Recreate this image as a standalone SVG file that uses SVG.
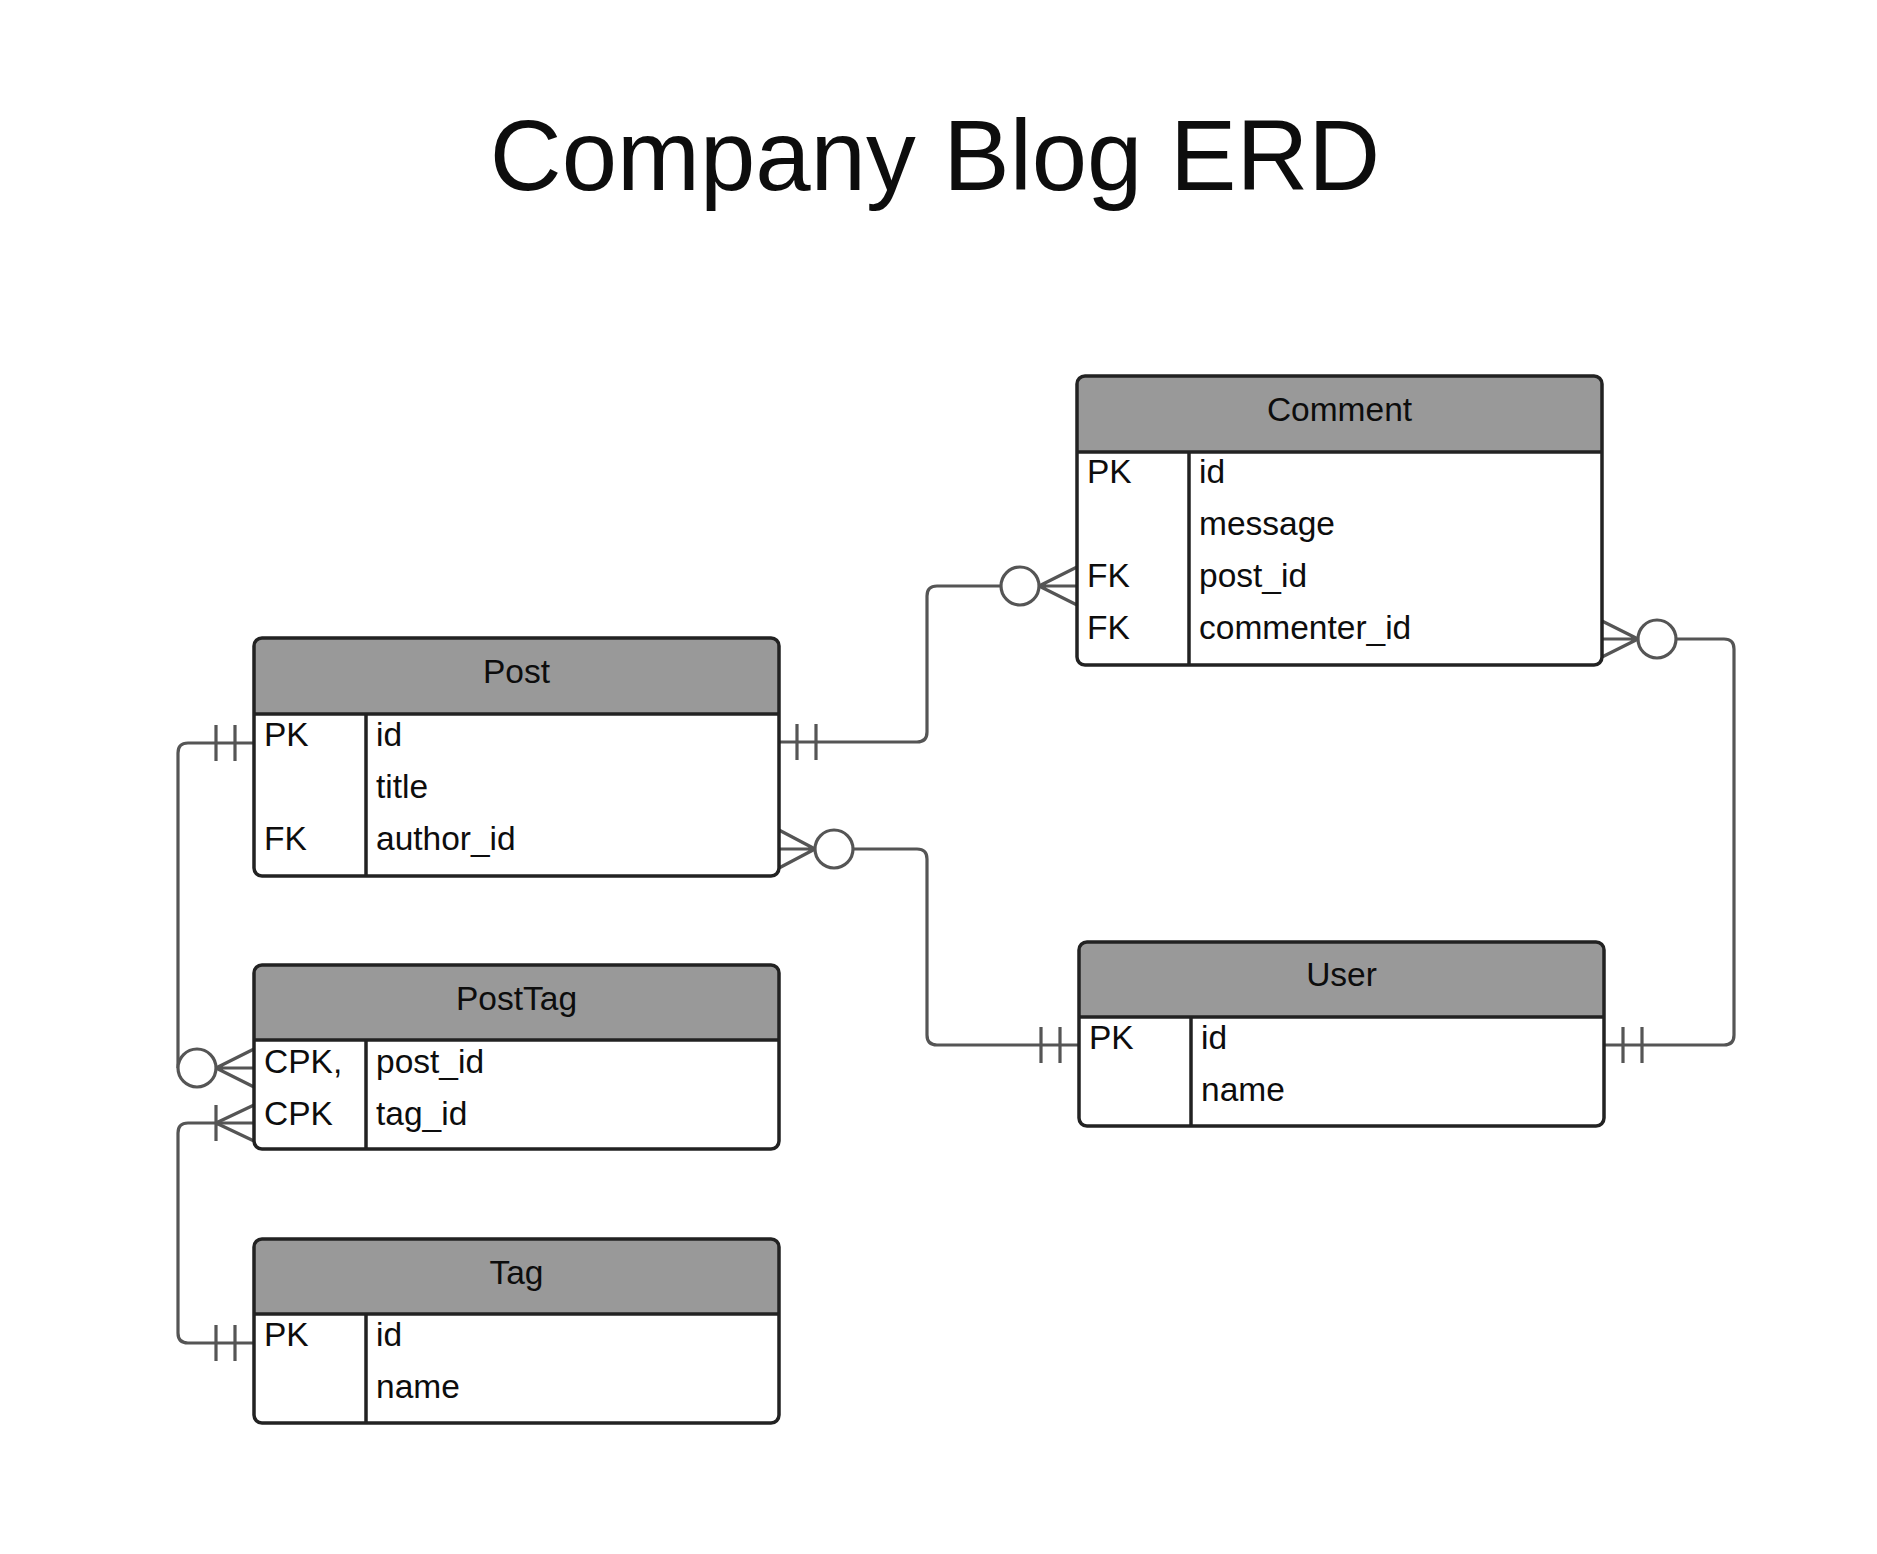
<svg xmlns="http://www.w3.org/2000/svg" width="1877" height="1554" viewBox="0 0 1877 1554">
<style>
  text { font-family: "Liberation Sans", Arial, sans-serif; fill: #0d0d0d; }
  .title { font-size: 99.5px; text-anchor: middle; }
  .hd { font-size: 33.5px; text-anchor: middle; }
  .t { font-size: 33.5px; }
  .hfill { fill: #999999; stroke: none; }
  .box { fill: none; stroke: #222; stroke-width: 3.5; }
  .bg { fill: #fff; stroke: none; }
  .ln { stroke: #222; stroke-width: 3.5; }
  .c { fill: none; stroke: #555; stroke-width: 3.2; stroke-linecap: butt; }
  .o { fill: #fff; stroke: #555; stroke-width: 3.2; }
</style>
<rect width="1877" height="1554" fill="#fff"/>
<text class="title" x="935" y="190">Company Blog ERD</text>

<g id="connectors">
  <!-- Post PK to PostTag post_id (zero or many) -->
  <path class="c" d="M254,743 H188 Q178,743 178,753 V1068"/>
  <path class="c" d="M216,725 V761 M235,725 V761"/>
  <path class="c" d="M216,1068 L254,1049 M216,1068 H254 M216,1068 L254,1087"/>
  <circle class="o" cx="197" cy="1068" r="19"/>
  <!-- Tag PK to PostTag tag_id (one or many) -->
  <path class="c" d="M254,1343 H188 Q178,1343 178,1333 V1133 Q178,1123 188,1123 H254"/>
  <path class="c" d="M216,1325 V1361 M235,1325 V1361"/>
  <path class="c" d="M216,1105 V1141 M216,1123 L254,1105 M216,1123 L254,1141"/>
  <!-- Post PK to Comment post_id -->
  <path class="c" d="M779,742 H917 Q927,742 927,732 V596 Q927,586 937,586 H1001"/>
  <path class="c" d="M797,724 V760 M816,724 V760"/>
  <path class="c" d="M1039,586 L1077,567 M1039,586 H1077 M1039,586 L1077,605"/>
  <circle class="o" cx="1020" cy="586" r="19"/>
  <!-- Post author_id to User PK -->
  <path class="c" d="M815,849 L779,830 M815,849 H779 M815,849 L779,868"/>
  <circle class="o" cx="834" cy="849" r="19"/>
  <path class="c" d="M853,849 H917 Q927,849 927,859 V1035 Q927,1045 937,1045 H1078"/>
  <path class="c" d="M1041,1027 V1063 M1060,1027 V1063"/>
  <!-- Comment commenter_id to User PK -->
  <path class="c" d="M1638,639 L1602,621 M1638,639 H1602 M1638,639 L1602,657"/>
  <circle class="o" cx="1657" cy="639" r="19"/>
  <path class="c" d="M1676,639 H1724 Q1734,639 1734,649 V1035 Q1734,1045 1724,1045 H1604"/>
  <path class="c" d="M1623,1027 V1063 M1642,1027 V1063"/>
</g>

<g id="post">
  <rect class="bg" x="254" y="638" width="525" height="238" rx="8"/>
  <path class="hfill" d="M254,714 V646 Q254,638 262,638 H771 Q779,638 779,646 V714 Z"/>
  <line class="ln" x1="254" y1="714" x2="779" y2="714"/>
  <line class="ln" x1="366" y1="714" x2="366" y2="876"/>
  <rect class="box" x="254" y="638" width="525" height="238" rx="8"/>
  <text class="hd" x="516.5" y="683">Post</text>
  <text class="t" x="264" y="746">PK</text>
  <text class="t" x="376" y="746">id</text>
  <text class="t" x="376" y="798">title</text>
  <text class="t" x="264" y="850">FK</text>
  <text class="t" x="376" y="850">author_id</text>
</g>

<g id="posttag">
  <rect class="bg" x="254" y="965" width="525" height="184" rx="8"/>
  <path class="hfill" d="M254,1040 V973 Q254,965 262,965 H771 Q779,965 779,973 V1040 Z"/>
  <line class="ln" x1="254" y1="1040" x2="779" y2="1040"/>
  <line class="ln" x1="366" y1="1040" x2="366" y2="1149"/>
  <rect class="box" x="254" y="965" width="525" height="184" rx="8"/>
  <text class="hd" x="516.5" y="1010">PostTag</text>
  <text class="t" x="264" y="1073">CPK,</text>
  <text class="t" x="376" y="1073">post_id</text>
  <text class="t" x="264" y="1125">CPK</text>
  <text class="t" x="376" y="1125">tag_id</text>
</g>

<g id="tag">
  <rect class="bg" x="254" y="1239" width="525" height="184" rx="8"/>
  <path class="hfill" d="M254,1314 V1247 Q254,1239 262,1239 H771 Q779,1239 779,1247 V1314 Z"/>
  <line class="ln" x1="254" y1="1314" x2="779" y2="1314"/>
  <line class="ln" x1="366" y1="1314" x2="366" y2="1423"/>
  <rect class="box" x="254" y="1239" width="525" height="184" rx="8"/>
  <text class="hd" x="516.5" y="1284">Tag</text>
  <text class="t" x="264" y="1346">PK</text>
  <text class="t" x="376" y="1346">id</text>
  <text class="t" x="376" y="1398">name</text>
</g>

<g id="comment">
  <rect class="bg" x="1077" y="376" width="525" height="289" rx="8"/>
  <path class="hfill" d="M1077,452 V384 Q1077,376 1085,376 H1594 Q1602,376 1602,384 V452 Z"/>
  <line class="ln" x1="1077" y1="452" x2="1602" y2="452"/>
  <line class="ln" x1="1189" y1="452" x2="1189" y2="665"/>
  <rect class="box" x="1077" y="376" width="525" height="289" rx="8"/>
  <text class="hd" x="1339.5" y="421">Comment</text>
  <text class="t" x="1087" y="483">PK</text>
  <text class="t" x="1199" y="483">id</text>
  <text class="t" x="1199" y="535">message</text>
  <text class="t" x="1087" y="587">FK</text>
  <text class="t" x="1199" y="587">post_id</text>
  <text class="t" x="1087" y="639">FK</text>
  <text class="t" x="1199" y="639">commenter_id</text>
</g>

<g id="user">
  <rect class="bg" x="1079" y="942" width="525" height="184" rx="8"/>
  <path class="hfill" d="M1079,1017 V950 Q1079,942 1087,942 H1596 Q1604,942 1604,950 V1017 Z"/>
  <line class="ln" x1="1079" y1="1017" x2="1604" y2="1017"/>
  <line class="ln" x1="1191" y1="1017" x2="1191" y2="1126"/>
  <rect class="box" x="1079" y="942" width="525" height="184" rx="8"/>
  <text class="hd" x="1341.5" y="986">User</text>
  <text class="t" x="1089" y="1049">PK</text>
  <text class="t" x="1201" y="1049">id</text>
  <text class="t" x="1201" y="1101">name</text>
</g>
</svg>
